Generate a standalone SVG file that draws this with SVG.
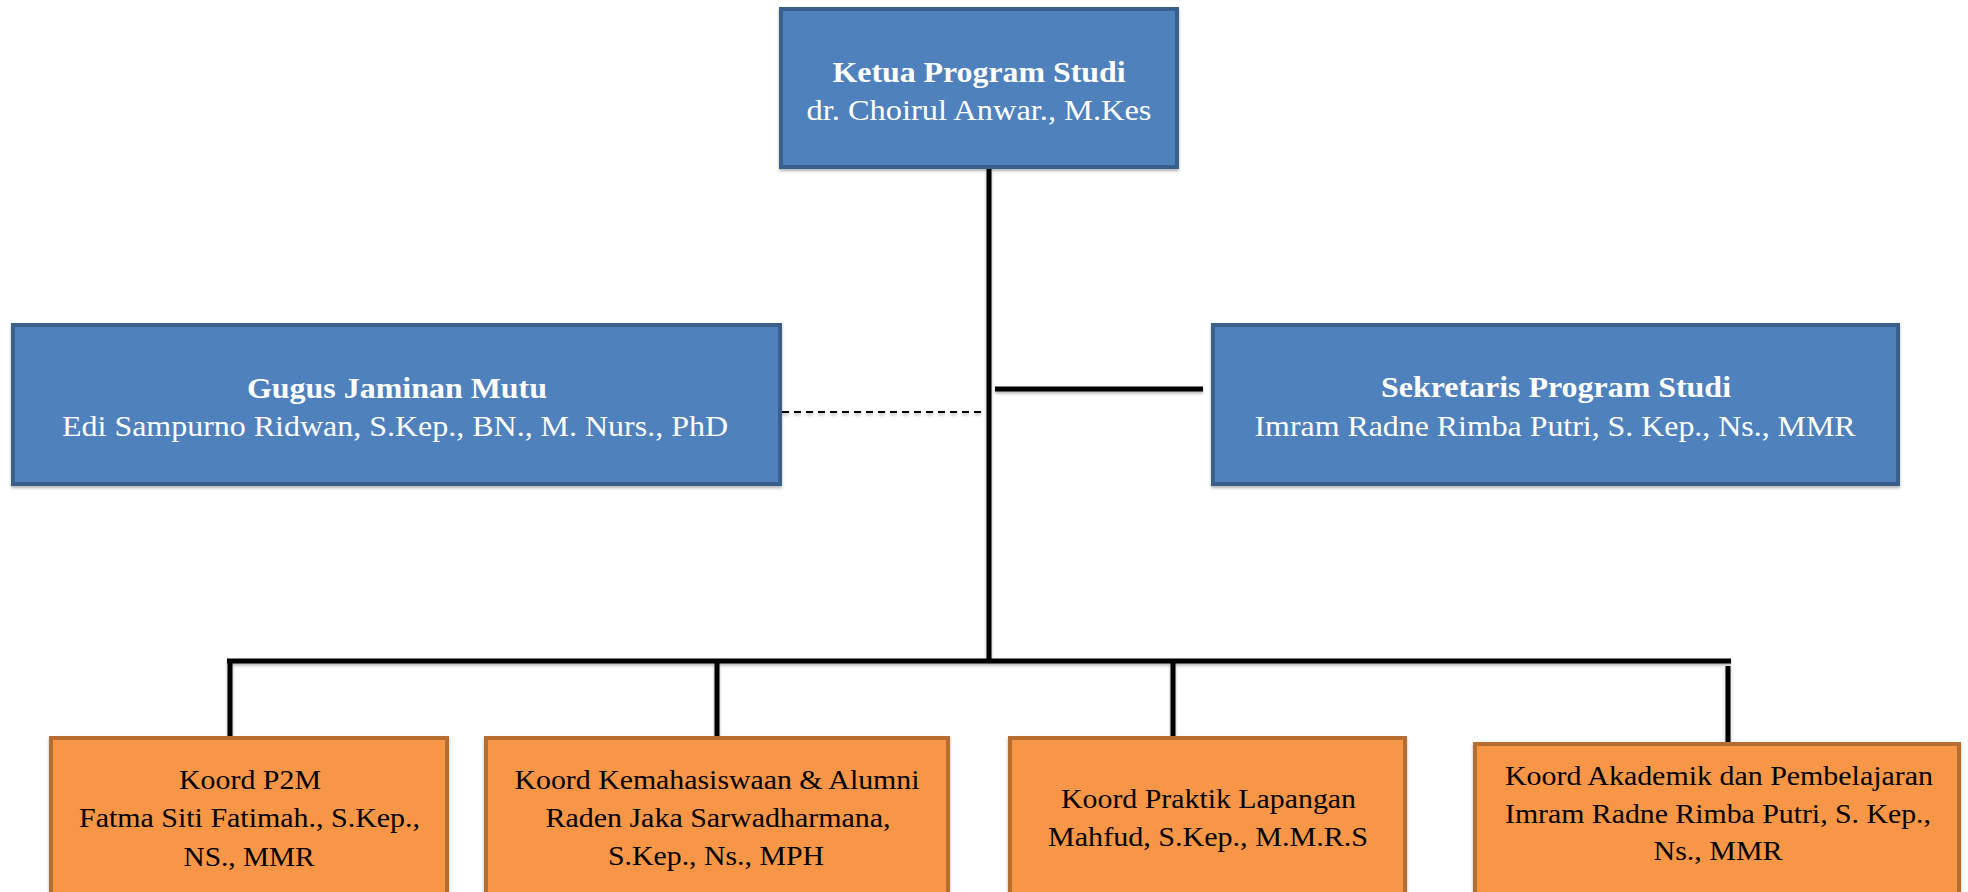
<svg xmlns="http://www.w3.org/2000/svg" width="1968" height="892" viewBox="0 0 1968 892">
<defs>
<filter id="sh" x="-5%" y="-5%" width="110%" height="120%">
<feDropShadow dx="0" dy="2" stdDeviation="1.5" flood-color="#000" flood-opacity="0.3"/>
</filter>
</defs>
<style>
.blue{fill:#4F81BD;stroke:#3A5F8B;stroke-width:4}
.orange{fill:#F79646;stroke:#B66D31;stroke-width:4}
.wt{fill:#fff;font-family:"Liberation Serif","Times New Roman",serif;text-anchor:middle}
.bk{fill:#000;font-family:"Liberation Serif","Times New Roman",serif;text-anchor:middle;font-size:28px}
.b{font-weight:bold;font-size:30px}
.n{font-size:29px}
.ln{stroke:#000;stroke-width:5;fill:none}
.dash{stroke:#000;stroke-width:2;stroke-dasharray:7 5;fill:none}
</style>
<rect width="1968" height="892" fill="#fff"/>
<g id="connectors" filter="url(#sh)">
<line class="ln" x1="989" y1="169" x2="989" y2="663"/>
<line class="ln" x1="227" y1="661" x2="1731" y2="661"/>
<line class="ln" x1="230" y1="661" x2="230" y2="736"/>
<line class="ln" x1="717" y1="661" x2="717" y2="736"/>
<line class="ln" x1="1173" y1="661" x2="1173" y2="736"/>
<line class="ln" x1="1728" y1="666" x2="1728" y2="742"/>
<line class="ln" x1="995" y1="389" x2="1203" y2="389"/>
<line class="dash" x1="782" y1="412" x2="985" y2="412"/>
</g>
<g id="ketua">
<rect class="blue" x="781" y="9" width="396" height="158" filter="url(#sh)"/>
<text class="wt b" x="979" y="82" textLength="293" lengthAdjust="spacingAndGlyphs">Ketua Program Studi</text>
<text class="wt n" x="979" y="120" textLength="345" lengthAdjust="spacingAndGlyphs">dr. Choirul Anwar., M.Kes</text>
</g>
<g id="gugus">
<rect class="blue" x="13" y="325" width="767" height="159" filter="url(#sh)"/>
<text class="wt b" x="397" y="398" textLength="300" lengthAdjust="spacingAndGlyphs">Gugus Jaminan Mutu</text>
<text class="wt n" x="395" y="436" textLength="666" lengthAdjust="spacingAndGlyphs">Edi Sampurno Ridwan, S.Kep., BN., M. Nurs., PhD</text>
</g>
<g id="sekretaris">
<rect class="blue" x="1213" y="325" width="685" height="159" filter="url(#sh)"/>
<text class="wt b" x="1556" y="397" textLength="350" lengthAdjust="spacingAndGlyphs">Sekretaris Program Studi</text>
<text class="wt n" x="1555" y="436" textLength="601" lengthAdjust="spacingAndGlyphs">Imram Radne Rimba Putri, S. Kep., Ns., MMR</text>
</g>
<g id="p2m">
<rect class="orange" x="51" y="738" width="396" height="200" filter="url(#sh)"/>
<text class="bk" x="250" y="789" textLength="142" lengthAdjust="spacingAndGlyphs">Koord P2M</text>
<text class="bk" x="249.5" y="827" textLength="341" lengthAdjust="spacingAndGlyphs">Fatma Siti Fatimah., S.Kep.,</text>
<text class="bk" x="249" y="866" textLength="131" lengthAdjust="spacingAndGlyphs">NS., MMR</text>
</g>
<g id="kemahasiswaan">
<rect class="orange" x="486" y="738" width="462" height="200" filter="url(#sh)"/>
<text class="bk" x="717" y="789" textLength="405" lengthAdjust="spacingAndGlyphs">Koord Kemahasiswaan &amp; Alumni</text>
<text class="bk" x="718" y="827" textLength="345" lengthAdjust="spacingAndGlyphs">Raden Jaka Sarwadharmana,</text>
<text class="bk" x="716" y="865" textLength="216" lengthAdjust="spacingAndGlyphs">S.Kep., Ns., MPH</text>
</g>
<g id="praktik">
<rect class="orange" x="1010" y="738" width="395" height="200" filter="url(#sh)"/>
<text class="bk" x="1208.5" y="808" textLength="295" lengthAdjust="spacingAndGlyphs">Koord Praktik Lapangan</text>
<text class="bk" x="1208" y="846" textLength="320" lengthAdjust="spacingAndGlyphs">Mahfud, S.Kep., M.M.R.S</text>
</g>
<g id="akademik">
<rect class="orange" x="1475" y="744" width="484" height="200" filter="url(#sh)"/>
<text class="bk" x="1719" y="785" textLength="428" lengthAdjust="spacingAndGlyphs">Koord Akademik dan Pembelajaran</text>
<text class="bk" x="1718" y="823" textLength="426" lengthAdjust="spacingAndGlyphs">Imram Radne Rimba Putri, S. Kep.,</text>
<text class="bk" x="1718" y="860" textLength="129" lengthAdjust="spacingAndGlyphs">Ns., MMR</text>
</g>
</svg>
